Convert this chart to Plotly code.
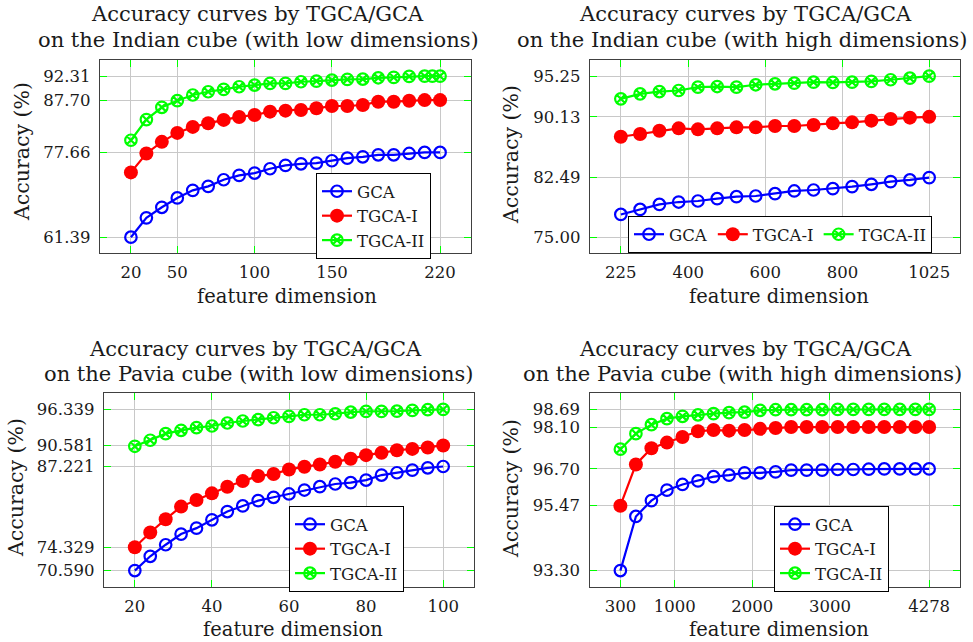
import plotly.graph_objects as go

# ---------------- data ----------------
# Indian, low dims
il_x = [20, 30, 40, 50, 60, 70, 80, 90, 100, 110, 120, 130, 140, 150, 160, 170, 180, 190, 200, 210, 220]
il_x_ii = [20, 30, 40, 50, 60, 70, 80, 90, 100, 110, 120, 130, 140, 150, 160, 170, 180, 190, 200, 210, 215, 220]
il_gca = [61.39, 65.10, 67.13, 68.92, 70.38, 71.15, 72.42, 73.25, 73.70, 74.53, 75.17, 75.48, 75.61, 76.06,
          76.57, 76.82, 77.20, 77.20, 77.46, 77.66, 77.66]
il_tgca1 = [73.83, 77.46, 79.69, 81.41, 82.56, 83.26, 83.90, 84.47, 84.85, 85.49, 85.68, 85.81, 86.13, 86.57,
            86.57, 86.76, 87.40, 87.40, 87.59, 87.70, 87.70]
il_tgca2 = [80.00, 83.96, 86.32, 87.59, 88.68, 89.31, 89.76, 90.27, 90.59, 90.91, 90.91, 91.23, 91.35, 91.55,
            91.67, 91.74, 91.99, 92.06, 92.25, 92.31, 92.31, 92.31]
il_xticks = [20, 50, 100, 150, 220]
il_yticks = [61.39, 77.66, 87.70, 92.31]

# Indian, high dims
ih_x = [225, 275, 325, 375, 425, 475, 525, 575, 625, 675, 725, 775, 825, 875, 925, 975, 1025]
ih_gca = [77.86, 78.49, 79.12, 79.42, 79.55, 79.84, 80.09, 80.18, 80.47, 80.81, 80.93, 81.10, 81.36, 81.65,
          81.99, 82.20, 82.49]
ih_tgca1 = [87.63, 87.97, 88.39, 88.68, 88.56, 88.68, 88.81, 88.81, 88.98, 88.98, 89.10, 89.31, 89.44, 89.65,
            89.86, 90.03, 90.13]
ih_tgca2 = [92.39, 93.02, 93.31, 93.44, 93.86, 93.94, 93.86, 94.16, 94.28, 94.37, 94.49, 94.45, 94.49, 94.58,
            94.79, 95.00, 95.25]
ih_xticks = [225, 400, 600, 800, 1025]
ih_yticks = [75.00, 82.49, 90.13, 95.25]

# Pavia, low dims
pl_x = [20, 24, 28, 32, 36, 40, 44, 48, 52, 56, 60, 64, 68, 72, 76, 80, 84, 88, 92, 96, 100]
pl_gca = [70.590, 72.87, 74.72, 76.42, 77.37, 78.70, 80.02, 80.92, 81.77, 82.30, 82.83, 83.46, 83.99, 84.42,
          84.63, 85.05, 85.85, 86.22, 86.64, 87.01, 87.221]
pl_tgca1 = [74.329, 76.68, 78.80, 80.81, 81.87, 82.93, 83.99, 84.89, 85.69, 86.01, 86.75, 87.17, 87.54, 87.97,
            88.45, 89.03, 89.40, 89.82, 90.03, 90.25, 90.581]
pl_tgca2 = [90.45, 91.41, 92.47, 93.00, 93.43, 93.69, 94.17, 94.49, 94.70, 95.01, 95.23, 95.49, 95.49, 95.65,
            95.92, 96.02, 96.02, 96.07, 96.18, 96.29, 96.339]
pl_xticks = [20, 40, 60, 80, 100]
pl_yticks = [70.590, 74.329, 87.221, 90.581, 96.339]

# Pavia, high dims
ph_x = [300, 500, 700, 900, 1100, 1300, 1500, 1700, 1900, 2100, 2300, 2500, 2700, 2900, 3100, 3300, 3500,
        3700, 3900, 4100, 4278]
ph_gca = [93.30, 95.11, 95.64, 95.99, 96.18, 96.30, 96.44, 96.49, 96.57, 96.57, 96.60, 96.66, 96.66, 96.66,
          96.68, 96.68, 96.69, 96.70, 96.70, 96.70, 96.70]
ph_tgca1 = [95.47, 96.85, 97.39, 97.58, 97.77, 97.96, 98.00, 97.98, 98.00, 98.04, 98.07, 98.10, 98.10, 98.10,
            98.10, 98.10, 98.10, 98.10, 98.10, 98.10, 98.10]
ph_tgca2 = [97.36, 97.88, 98.18, 98.38, 98.46, 98.51, 98.55, 98.58, 98.60, 98.66, 98.68, 98.68, 98.68, 98.68,
            98.69, 98.69, 98.69, 98.69, 98.69, 98.69, 98.69]
ph_xticks = [300, 1000, 2000, 3000, 4278]
ph_yticks = [93.30, 95.47, 96.70, 98.10, 98.69]

series_names = ["GCA", "TGCA-I", "TGCA-II"]
titles = [
    ("Accuracy curves by TGCA/GCA", "on the Indian cube (with low dimensions)"),
    ("Accuracy curves by TGCA/GCA", "on the Indian cube (with high dimensions)"),
    ("Accuracy curves by TGCA/GCA", "on the Pavia cube (with low dimensions)"),
    ("Accuracy curves by TGCA/GCA", "on the Pavia cube (with high dimensions)"),
]

# ---------------- style ----------------
W, H = 973, 642
FONT = "DejaVu Serif, Liberation Serif, serif"
BLUE, RED, GREEN = "#0000ff", "#ff0000", "#00ff00"
TXT = "#1a1a1a"
TITLE_SIZE, TICK_SIZE, LEG_SIZE, XLAB_SIZE, YLAB_SIZE = 21, 16.5, 16.5, 19.5, 20.5

def px(x):
    return x / W

def py(y):
    return 1 - y / H

fig = go.Figure()

panels = [
    dict(x=[il_x, il_x, il_x_ii], y=[il_gca, il_tgca1, il_tgca2], xt=il_xticks, yt=il_yticks,
         xdom=[px(100), px(471)], ydom=[py(253.3), py(60)], fmt="%.2f"),
    dict(x=[ih_x, ih_x, ih_x], y=[ih_gca, ih_tgca1, ih_tgca2], xt=ih_xticks, yt=ih_yticks,
         xdom=[px(590), px(960)], ydom=[py(253.3), py(60)], fmt="%.2f"),
    dict(x=[pl_x, pl_x, pl_x], y=[pl_gca, pl_tgca1, pl_tgca2], xt=pl_xticks, yt=pl_yticks,
         xdom=[px(104), px(474)], ydom=[py(586.7), py(393.3)], fmt="%.3f"),
    dict(x=[ph_x, ph_x, ph_x], y=[ph_gca, ph_tgca1, ph_tgca2], xt=ph_xticks, yt=ph_yticks,
         xdom=[px(589.5), px(960)], ydom=[py(586.7), py(393.3)], fmt="%.2f"),
]

legend_specs = [
    dict(x=px(316), y=py(173), orientation="v"),
    dict(x=px(628), y=py(216), orientation="h"),
    dict(x=px(289), y=py(506), orientation="v"),
    dict(x=px(774), y=py(506), orientation="v"),
]

marker_styles = [
    dict(color="rgba(0,0,0,0)", size=11.5, symbol="circle", line=dict(color=BLUE, width=2.2)),
    dict(color=RED, size=14, symbol="circle", line=dict(color=RED, width=0)),
    dict(color="rgba(0,0,0,0)", size=11.5, symbol="circle-x", line=dict(color=GREEN, width=2.2)),
]
colors = [BLUE, RED, GREEN]

layout = dict(
    width=W, height=H, margin=dict(l=0, r=0, t=0, b=0),
    paper_bgcolor="white", plot_bgcolor="white",
    font=dict(family=FONT, color=TXT, size=16),
    showlegend=True,
)

annotations = []
for i, p in enumerate(panels):
    k = "" if i == 0 else str(i + 1)
    lname = "legend" + k
    for j in range(3):
        fig.add_trace(go.Scatter(
            x=p["x"][j], y=p["y"][j], name=series_names[j], mode="lines+markers",
            line=dict(color=colors[j], width=2.2),
            marker=marker_styles[j],
            xaxis="x" + k, yaxis="y" + k, legend=lname,
        ))
    xmin, xmax = min(p["x"][0]), max(p["x"][0])
    ymin = min(min(p["yt"]), min(min(s) for s in p["y"]))
    ymax = max(max(p["yt"]), max(max(s) for s in p["y"]))
    dx = 0.1 * (xmax - xmin)
    dy = 0.1 * (ymax - ymin)
    common = dict(
        showline=True, linecolor="#404040", linewidth=1.3, mirror="ticks",
        ticks="inside", tickcolor=GREEN, ticklen=7, tickwidth=1.2,
        showgrid=True, gridcolor="#c8c8c8", gridwidth=1, zeroline=False,
        tickfont=dict(family=FONT, size=TICK_SIZE, color=TXT),
    )
    layout["xaxis" + k] = dict(
        domain=p["xdom"], anchor="y" + k, range=[xmin - dx, xmax + dx],
        tickmode="array", tickvals=p["xt"], ticktext=[str(v) for v in p["xt"]],
        ticklabelstandoff=4, **common)
    layout["yaxis" + k] = dict(
        domain=p["ydom"], anchor="x" + k, range=[ymin - dy, ymax + dy],
        tickmode="array", tickvals=p["yt"], ticktext=[p["fmt"] % v for v in p["yt"]],
        ticklabelstandoff=5, **common)
    ls = legend_specs[i]
    layout[lname] = dict(
        x=ls["x"], y=ls["y"], xanchor="left", yanchor="top", orientation=ls["orientation"],
        bgcolor="white", bordercolor="#000000", borderwidth=1,
        font=dict(family=FONT, size=LEG_SIZE, color=TXT),
        itemwidth=30,
    )

title_pos = [((257, 14), (258, 40)), ((745, 14), (742, 40)),
             ((255, 349), (258, 374)), ((745, 349), (742, 374))]
xlab_pos = [(287, 296), (779, 296), (293, 629), (779, 629)]
ylab_pos = [(22, 152), (511, 154), (16, 488), (511, 488)]
for i in range(4):
    (x1, y1), (x2, y2) = title_pos[i]
    annotations.append(dict(text=titles[i][0], x=px(x1), y=py(y1), xref="paper", yref="paper",
                            xanchor="center", yanchor="middle", showarrow=False,
                            font=dict(family=FONT, size=TITLE_SIZE, color=TXT)))
    annotations.append(dict(text=titles[i][1], x=px(x2), y=py(y2), xref="paper", yref="paper",
                            xanchor="center", yanchor="middle", showarrow=False,
                            font=dict(family=FONT, size=TITLE_SIZE, color=TXT)))
    xx, yy = xlab_pos[i]
    annotations.append(dict(text="feature dimension", x=px(xx), y=py(yy), xref="paper", yref="paper",
                            xanchor="center", yanchor="middle", showarrow=False,
                            font=dict(family=FONT, size=XLAB_SIZE, color=TXT)))
    xx, yy = ylab_pos[i]
    annotations.append(dict(text="Accuracy (%)", x=px(xx), y=py(yy), xref="paper", yref="paper",
                            xanchor="center", yanchor="middle", showarrow=False, textangle=-90,
                            font=dict(family=FONT, size=YLAB_SIZE, color=TXT)))
layout["annotations"] = annotations

fig.update_layout(**layout)
fig.write_html("out.html")
